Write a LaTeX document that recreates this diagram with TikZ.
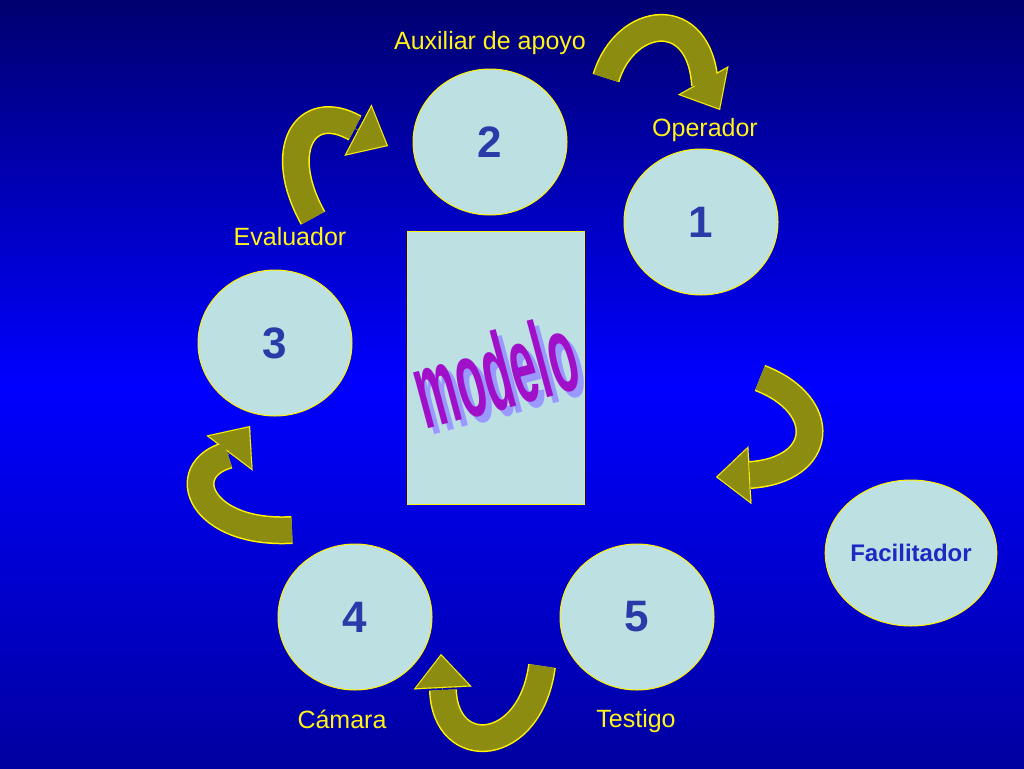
\documentclass[tikz,border=0pt]{standalone}
\usepackage{fontspec}
\setmainfont{Liberation Sans}
\usetikzlibrary{arrows.meta,shapes.geometric}
\definecolor{bgtop}{HTML}{000070}
\definecolor{bgmid}{HTML}{0000FF}
\definecolor{bgbot}{HTML}{0000A0}
\definecolor{cfill}{HTML}{BDE0E3}
\definecolor{olivea}{HTML}{8C8C10}
\definecolor{numc}{HTML}{2A3AA8}
\definecolor{modc}{HTML}{A010C8}
\tikzset{
  circ/.style={ellipse,draw=yellow,fill=cfill,line width=1pt,minimum width=154pt,minimum height=146pt,inner sep=0pt,font=\fontsize{44}{44}\selectfont\bfseries,text=numc},
  lab/.style={text=yellow!90!white,font=\fontsize{25}{27}\selectfont},
  bodyout/.style={line width=28pt,draw=yellow},
  bodyin/.style={line width=25pt,draw=olivea},
  headout/.style={line width=0.1pt,draw=yellow,fill=yellow,-{Triangle[length=34pt,width=58pt]}},
  headin/.style={line width=0.1pt,draw=olivea,fill=olivea,shorten >=1.8pt,-{Triangle[length=31pt,width=53pt]}}
}
\newcommand{\bigarrow}[3]{\draw[bodyout] #1; \draw[headout] #2 -- #3; \draw[bodyin] #1; \draw[headin] #2 -- #3;}
\begin{document}
\begin{tikzpicture}[x=1pt,y=-1pt]
\shade[top color=bgtop,bottom color=bgbot,middle color=bgmid] (0,0) rectangle (1024,768);
\useasboundingbox (0,0) rectangle (1024,768);
\node[circ] (n2) at (490,142) {2};
\node[circ] (n1) at (701,222) {1};
\node[circ] (n3) at (275,343) {3};
\node[circ] (n4) at (355,617) {4};
\node[circ] (n5) at (637,617) {5};
\node[circ,font=\fontsize{24}{26}\selectfont\bfseries,text=numc!70!blue] (nf) at (911,553) {Facilitador};
\node[draw=yellow,fill=cfill,minimum width=177pt,minimum height=273pt,inner sep=0pt] (box) at (495.5,367.5) {};
\node[rotate=15,xscale=0.55,yscale=1.3,text=blue!40!white,font=\fontsize{84}{84}\selectfont\bfseries] at (501,377) {modelo};
\node[rotate=15,xscale=0.55,yscale=1.3,text=modc,font=\fontsize{84}{84}\selectfont\bfseries] (mod) at (495,371) {modelo};
\node[lab] (l2) at (490,43) {Auxiliar de apoyo};
\node[lab] (l1) at (705,130) {Operador};
\node[lab] (l3) at (290,237) {Evaluador};
\node[lab] (l4) at (342,719) {Cámara};
\node[lab] (l5) at (636,721) {Testigo};
\bigarrow{(606,78) .. controls (625,15) and (700,5) .. (705,85)}{(703,80)}{(720,110)}
\bigarrow{(313,218) .. controls (275,150) and (305,100) .. (355,128)}{(352,127)}{(388,146)}
\bigarrow{(760,378) .. controls (830,405) and (825,470) .. (750,475)}{(753,475)}{(716,477)}
\bigarrow{(292,530) .. controls (200,535) and (175,470) .. (228,455)}{(225,459)}{(250,426)}
\bigarrow{(542,666) .. controls (530,755) and (445,760) .. (443,690)}{(443,694)}{(441,654)}
\end{tikzpicture}
\end{document}
